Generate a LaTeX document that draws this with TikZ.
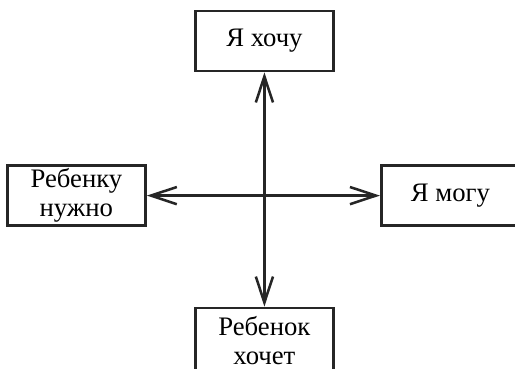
\documentclass[tikz,border=0pt]{standalone}
\usepackage{fontspec}
\setmainfont{Liberation Serif}
\usetikzlibrary{arrows.meta}

\begin{document}
\begin{tikzpicture}
    [
        wish/.style={draw=black!85, line width=2pt, minimum width=3.45cm, minimum height=1.5cm,
            inner sep=0pt, align=center, font=\fontsize{19}{20.5}\selectfont},
        axis2/.style={black!85, line width=1.8pt,
            {Straight Barb[length=6.5mm,width=4.3mm]}-{Straight Barb[length=6.5mm,width=4.3mm]}}
    ]
%    \draw[style=help lines,step=0.5cm] (0,0) grid (12.875,9.2);
    \useasboundingbox (0,0) rectangle (12.875,9.2);
    \clip (0,0) rectangle (12.875,9.2);

    \node[wish] (want) at (6.61,8.175) {Я хочу};
    \node[wish] (need) at (1.91,4.31) {Ребенку\\нужно};
    \node[wish] (can) at (11.26,4.31) {Я могу};
    \node[wish, minimum height=1.62cm] (childwant) at (6.61,0.69) {Ребенок\\хочет};

    \draw[axis2] (want) -- (childwant);
    \draw[axis2] (need) -- (can);
\end{tikzpicture}
\end{document}
